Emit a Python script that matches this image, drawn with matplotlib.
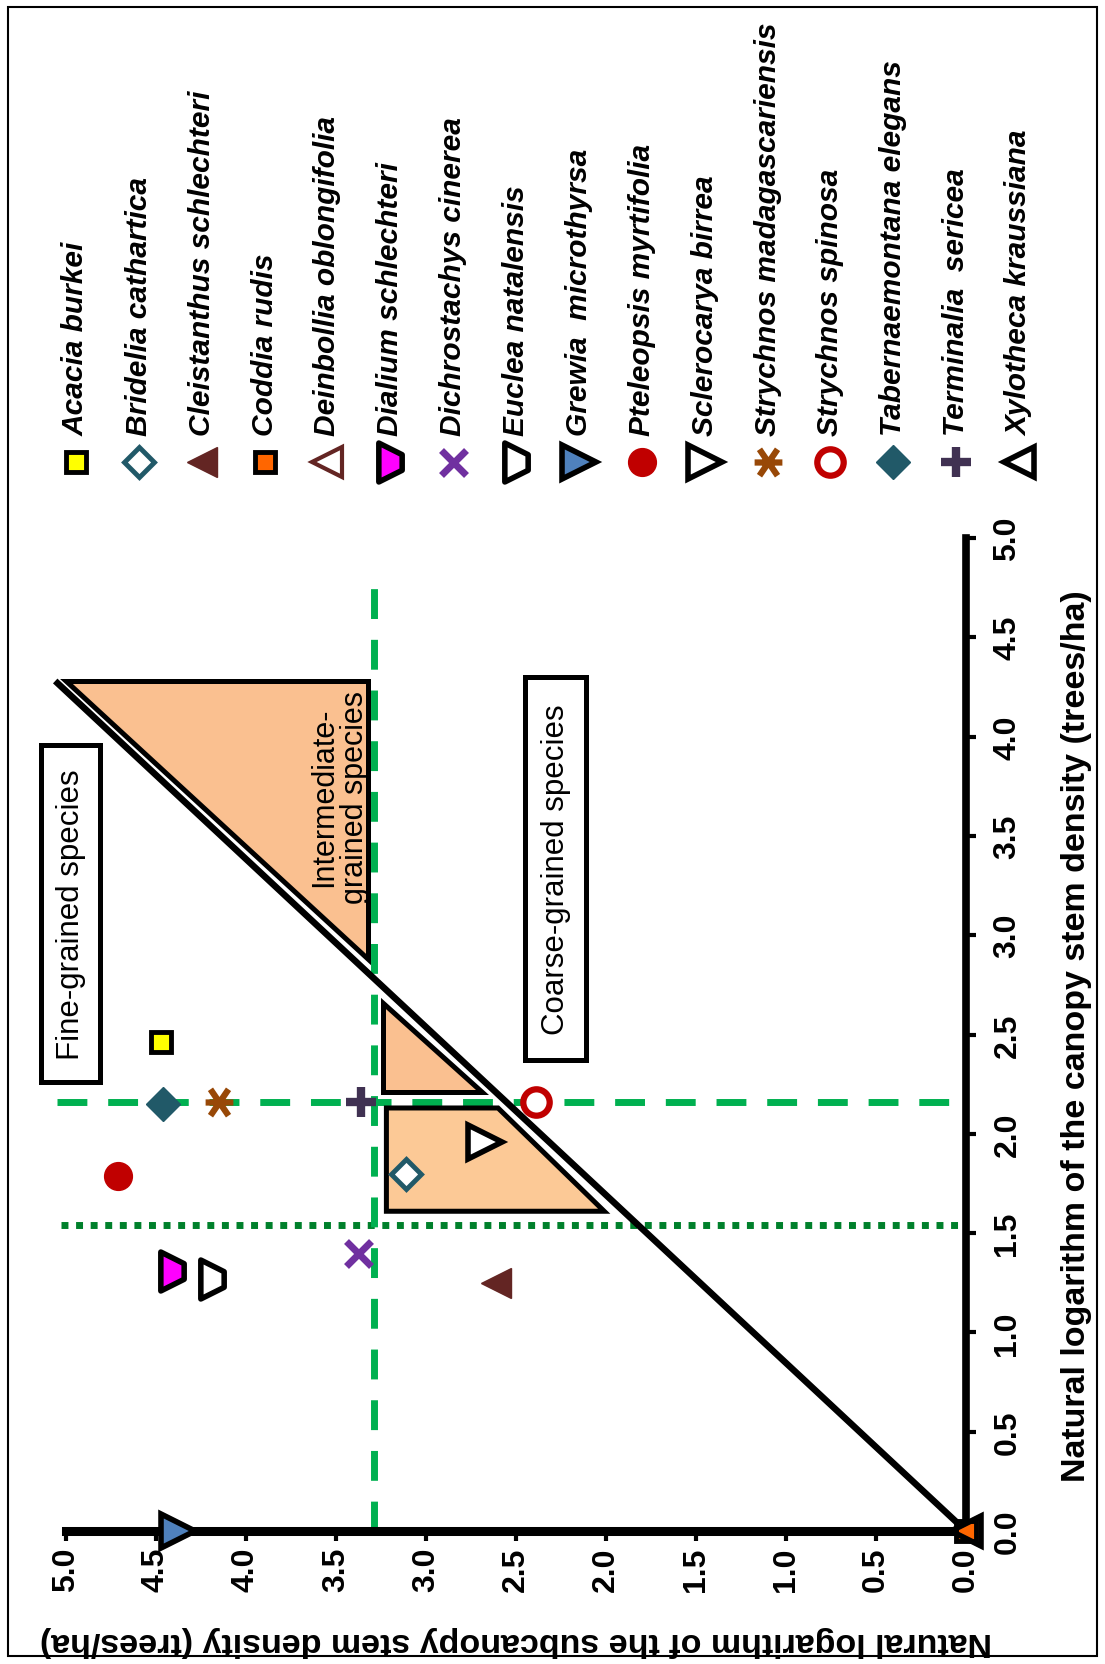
import numpy as np
import matplotlib.pyplot as plt
from matplotlib.path import Path
from matplotlib.patches import Rectangle

plt.rcParams['font.family'] = ['Liberation Sans', 'DejaVu Sans']

species = ['Acacia burkei', 'Bridelia cathartica', 'Cleistanthus schlechteri', 'Coddia rudis',
           'Deinbollia oblongifolia', 'Dialium schlechteri', 'Dichrostachys cinerea',
           'Euclea natalensis', 'Grewia  microthyrsa', 'Pteleopsis myrtifolia',
           'Sclerocarya birrea', 'Strychnos madagascariensis', 'Strychnos spinosa',
           'Tabernaemontana elegans', 'Terminalia  sericea', 'Xylotheca kraussiana']
# ln of canopy stem density (trees/ha)
canopy = [2.46, 1.80, 1.25, 0.00, 0.00, 1.31, 1.40, 1.27, 0.00, 1.79, 1.96, 2.16, 2.16, 2.15, 2.16, 0.00]
# ln of subcanopy stem density (trees/ha)
subcanopy = [4.47, 3.11, 2.61, 0.00, 0.00, 4.41, 3.38, 4.19, 4.38, 4.71, 2.67, 4.15, 2.39, 4.46, 3.36, 0.00]

# threshold lines
canopy_cut = 2.16
canopy_low = 1.54
subcanopy_cut = 3.29

# separating line and the shaded zones (subcanopy, canopy)
diag_sub = [0.0, 5.06]
diag_can = [0.0, 4.28]
inter_sub = [5.0, 3.32, 3.32]
inter_can = [4.28, 4.28, 2.88]
upper_sub = [3.24, 3.24, 2.69]
upper_can = [2.66, 2.21, 2.21]
lower_sub = [3.22, 2.60, 2.01, 3.22]
lower_can = [2.13, 2.13, 1.61, 1.61]

# label boxes: (subcanopy range, canopy range)
fine_box = ((4.81, 5.14), (2.26, 3.96))
coarse_box = ((2.11, 2.45), (2.37, 4.30))

ticks = np.arange(0, 5.01, 0.5)

trap = Path([(-0.6, -1.0), (0.6, -0.4), (0.6, 0.4), (-0.6, 1.0), (-0.6, -1.0)], closed=True)
star = Path([(-1, 0), (1, 0), (-0.65, -0.95), (0.65, 0.95), (-0.65, 0.95), (0.65, -0.95)],
            [Path.MOVETO, Path.LINETO, Path.MOVETO, Path.LINETO, Path.MOVETO, Path.LINETO])

# marker, size, face, edge, edge width
styles = {
    'Acacia burkei': ('s', 15, '#FFFF00', 'black', 3.5),
    'Bridelia cathartica': ('D', 15, 'white', '#215968', 3.5),
    'Cleistanthus schlechteri': ('<', 22, '#632523', '#632523', 1),
    'Coddia rudis': ('s', 15, '#FF6600', 'black', 3.5),
    'Deinbollia oblongifolia': ('<', 21, 'none', '#632523', 3),
    'Dialium schlechteri': (trap, 28, '#FF00FF', 'black', 4),
    'Dichrostachys cinerea': ('x', 18, 'none', '#7030A0', 5),
    'Euclea natalensis': (trap, 28, 'white', 'black', 4),
    'Grewia  microthyrsa': ('>', 24, '#4F81BD', 'black', 4),
    'Pteleopsis myrtifolia': ('o', 20, '#C00000', '#C00000', 1),
    'Sclerocarya birrea': ('>', 24, 'white', 'black', 4),
    'Strychnos madagascariensis': (star, 20, 'none', '#984807', 4.5),
    'Strychnos spinosa': ('o', 19, 'white', '#C00000', 4.5),
    'Tabernaemontana elegans': ('D', 17, '#215968', '#215968', 1),
    'Terminalia  sericea': ('+', 21, 'none', '#403152', 6),
    'Xylotheca kraussiana': ('<', 21, 'none', 'black', 4),
}

fig = plt.figure(figsize=(11.05, 16.65), dpi=100)
# whole chart is laid out turned on its side: canopy runs up the page, subcanopy runs right to left
ax = fig.add_axes([66 / 1105, 133 / 1665, 900 / 1105, 993 / 1665])
ax.set_xlim(5, 0)
ax.set_ylim(0, 5)

green = '#00B050'
ax.plot([5.05, 0], [canopy_cut, canopy_cut], color=green, lw=5, dashes=(4.3, 3.0),
        clip_on=False, zorder=2, dash_capstyle='butt')
ax.plot([5.03, 0], [canopy_low, canopy_low], color='#00802B', lw=5, dashes=(1.0, 1.1),
        clip_on=False, zorder=2, dash_capstyle='butt')
ax.plot([subcanopy_cut, subcanopy_cut], [0, 4.83], color=green, lw=5, dashes=(4.3, 3.0),
        clip_on=False, zorder=2, dash_capstyle='butt')

peach = '#FAC090'
ax.fill(inter_sub, inter_can, fc=peach, ec='black', lw=3.6, zorder=3, clip_on=False)
ax.fill(upper_sub, upper_can, fc=peach, ec='black', lw=3.6, zorder=3, clip_on=False)
ax.fill(lower_sub, lower_can, fc='#FCC996', ec='black', lw=3.6, zorder=3, clip_on=False)
ax.plot(diag_sub, diag_can, color='black', lw=4.7, zorder=4, clip_on=False,
        solid_capstyle='butt')

for name, sx, cy in zip(species, subcanopy, canopy):
    m, ms, fc, ec, mew = styles[name]
    ax.plot(sx, cy, marker=m, ms=ms, mfc=fc, mec=ec, mew=mew, ls='none',
            zorder=6, clip_on=False)

for (s0, s1), (c0, c1) in [fine_box, coarse_box]:
    ax.add_patch(Rectangle((s0, c0), s1 - s0, c1 - c0, fc='white', ec='black', lw=3.6,
                           zorder=7, clip_on=False))
ax.text(sum(fine_box[0]) / 2, sum(fine_box[1]) / 2, 'Fine-grained species', rotation=90,
        ha='center', va='center', fontsize=22.5, zorder=8)
ax.text(sum(coarse_box[0]) / 2, sum(coarse_box[1]) / 2, 'Coarse-grained species',
        rotation=90, ha='center', va='center', fontsize=22.5, zorder=8)
ax.text(3.48, 3.70, 'Intermediate-\ngrained species', rotation=90, ha='center',
        va='center', multialignment='center', fontsize=22, zorder=8, linespacing=1.0)

for side in ['left', 'top']:
    ax.spines[side].set_visible(False)
ax.spines['bottom'].set_linewidth(6.5)
ax.spines['right'].set_linewidth(5.5)
ax.yaxis.tick_right()
ax.set_xticks(ticks)
ax.set_yticks(ticks)
ax.set_xticklabels([f'{t:.1f}' for t in ticks], rotation=90, fontsize=23, fontweight='bold')
ax.set_yticklabels([f'{t:.1f}' for t in ticks], rotation=90, fontsize=23, fontweight='bold',
                   va='center')
ax.tick_params(axis='both', direction='out', length=7, width=3)
ax.tick_params(axis='x', pad=4)
ax.tick_params(axis='y', pad=12)
ax.patch.set_alpha(0)

fig.text(516 / 1105, 1 - 1641 / 1665,
         'Natural logarithm of the subcanopy stem density (trees/ha)',
         rotation=180, ha='center', va='center', fontsize=24.5, fontweight='bold')
fig.text(1077 / 1105, 1 - 1036 / 1665,
         'Natural logarithm of the canopy stem density (trees/ha)',
         rotation=90, ha='center', va='center', fontsize=24.5, fontweight='bold')

# key along the top, one column per species
lax = fig.add_axes([0, 0, 1, 1], zorder=-1)
lax.set_xlim(0, 1105)
lax.set_ylim(1665, 0)
lax.axis('off')
key_x = np.linspace(76, 1019, len(species))
for name, kx in zip(species, key_x):
    m, ms, fc, ec, mew = styles[name]
    lax.plot(kx, 463, marker=m, ms=ms, mfc=fc, mec=ec, mew=mew, ls='none')
    lax.text(kx, 436, name, rotation=90, ha='center', va='bottom', fontsize=21.5,
             fontweight='bold', fontstyle='italic')

lax.add_patch(Rectangle((8, 8), 1089, 1649, fill=False, ec='black', lw=1.5))

fig.savefig('out.png', dpi=100)
